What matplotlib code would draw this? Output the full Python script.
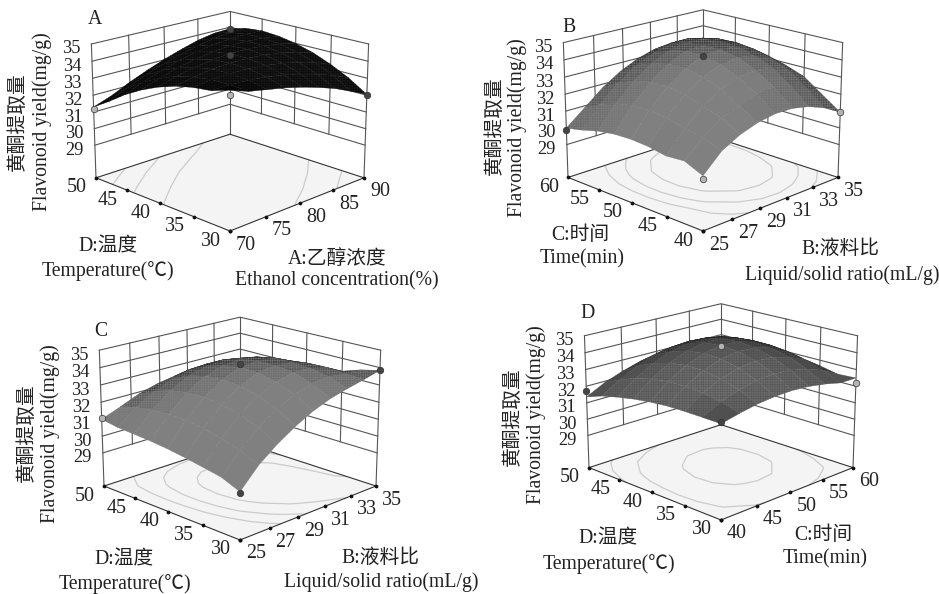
import numpy as np
import matplotlib
matplotlib.use('Agg')
import matplotlib.pyplot as plt
from mpl_toolkits.mplot3d import proj3d

plt.rcParams['font.family'] = ['Liberation Serif', 'Noto Sans CJK SC']  # latin + chinese
plt.rcParams['axes.unicode_minus'] = False
plt.rcParams['hatch.linewidth'] = 0.3

z_ticks = [29, 30, 31, 32, 33, 34, 35]
z_floor = 27

# x/y ticks of each panel
a_x = [70, 75, 80, 85, 90]
a_y = [30, 35, 40, 45, 50]
b_x = [25, 27, 29, 31, 33, 35]
b_y = [40, 45, 50, 55, 60]
c_x = [25, 27, 29, 31, 33, 35]
c_y = [30, 35, 40, 45, 50]
d_x = [40, 45, 50, 55, 60]
d_y = [30, 35, 40, 45, 50]

# yield, rows go along y, columns along x (9 x 9 grid)
a_z = [
    [34.67, 34.31, 34.11, 33.91, 33.65, 33.34, 32.98, 32.52, 32.05],
    [34.35, 34.37, 34.33, 34.22, 34.05, 33.82, 33.52, 33.17, 32.74],
    [34.23, 34.36, 34.41, 34.40, 34.31, 34.16, 33.93, 33.64, 33.27],
    [34.00, 34.22, 34.38, 34.44, 34.44, 34.37, 34.22, 33.99, 33.70],
    [33.65, 33.97, 34.20, 34.36, 34.44, 34.44, 34.38, 34.23, 34.00],
    [33.19, 33.57, 33.89, 34.12, 34.29, 34.38, 34.39, 34.32, 34.19],
    [32.62, 33.07, 33.45, 33.77, 34.01, 34.18, 34.28, 34.31, 34.27],
    [31.93, 32.44, 32.89, 33.27, 33.59, 33.84, 34.04, 34.17, 34.18],
    [31.30, 31.69, 32.20, 32.64, 33.04, 33.38, 33.68, 33.87, 33.91],
]
b_z = [
    [30.05, 31.05, 31.60, 31.95, 32.12, 32.10, 31.89, 31.50, 30.93],
    [30.50, 31.44, 32.20, 32.56, 32.91, 33.02, 32.80, 32.37, 31.69],
    [30.42, 31.61, 32.53, 33.18, 33.57, 33.69, 33.55, 33.14, 32.46],
    [30.60, 31.88, 32.88, 33.59, 34.01, 34.15, 34.00, 33.57, 32.85],
    [30.67, 32.00, 33.04, 33.79, 34.24, 34.33, 34.27, 33.85, 33.14],
    [30.63, 31.96, 33.01, 33.77, 34.25, 34.33, 34.33, 33.97, 33.31],
    [30.47, 31.76, 32.79, 33.54, 34.04, 34.27, 34.23, 33.93, 33.36],
    [30.20, 31.40, 32.37, 33.11, 33.61, 33.88, 33.93, 33.73, 33.31],
    [29.99, 30.88, 31.77, 32.46, 32.97, 33.29, 33.42, 33.37, 32.97],
]
c_z = [
    [29.65, 30.75, 31.54, 32.19, 32.72, 33.11, 33.37, 33.60, 33.85],
    [30.08, 31.19, 32.10, 32.81, 33.33, 33.65, 33.76, 33.67, 33.60],
    [30.27, 31.51, 32.51, 33.26, 33.75, 34.00, 34.00, 33.75, 33.25],
    [30.45, 31.75, 32.77, 33.52, 33.99, 34.17, 34.09, 33.72, 33.09],
    [30.60, 31.89, 32.89, 33.60, 34.04, 34.18, 34.04, 33.60, 32.89],
    [30.71, 31.92, 32.86, 33.52, 33.90, 34.00, 33.83, 33.38, 32.66],
    [30.78, 31.85, 32.68, 33.26, 33.58, 33.66, 33.49, 33.07, 32.40],
    [30.84, 31.70, 32.35, 32.81, 33.08, 33.14, 32.99, 32.65, 32.12],
    [31.00, 31.43, 31.88, 32.19, 32.38, 32.43, 32.35, 32.13, 31.79],
]
d_z = [
    [32.38, 32.62, 32.82, 32.93, 32.96, 32.89, 32.73, 32.50, 32.50],
    [32.40, 32.92, 33.30, 33.53, 33.61, 33.55, 33.32, 32.96, 32.44],
    [32.41, 33.12, 33.63, 33.95, 34.07, 34.01, 33.75, 33.30, 32.66],
    [32.39, 33.20, 33.80, 34.19, 34.35, 34.30, 34.03, 33.55, 32.84],
    [32.30, 33.17, 33.82, 34.24, 34.43, 34.40, 34.15, 33.66, 32.96],
    [32.16, 33.03, 33.68, 34.11, 34.33, 34.33, 34.10, 33.67, 33.02],
    [31.96, 32.77, 33.38, 33.80, 34.03, 34.07, 33.92, 33.57, 33.03],
    [31.72, 32.40, 32.93, 33.32, 33.55, 33.63, 33.57, 33.35, 32.99],
    [31.36, 31.92, 32.32, 32.64, 32.87, 33.01, 33.06, 33.03, 32.87],
]

# design points sitting on the surfaces: x, y, z, dark (1) or light (0)
a_pts = [(90, 50, 33.9, 1), (80, 40, 34.35, 1), (70, 30, 34.4, 0), (70, 50, 31.2, 0), (90, 30, 32.0, 1)]
b_pts = [(25, 40, 29.9, 0), (25, 60, 29.9, 1), (35, 40, 30.95, 0), (30, 50, 34.25, 1)]
c_pts = [(25, 30, 29.6, 1), (25, 50, 31.1, 0), (35, 30, 33.85, 1), (30, 40, 34.2, 1)]
d_pts = [(40, 30, 32.5, 1), (40, 50, 31.7, 1), (60, 30, 32.2, 0), (50, 40, 34.4, 0)]

z_title_cn = '黄酮提取量'
z_title_en = 'Flavonoid yield(mg/g)'

W, H = 939, 594
ELEV = 18
Z_BOX = 0.73
fig = plt.figure(figsize=(W / 100, H / 100), dpi=100, facecolor='white')


def pixel_of(ax, x, y, z):  # where a data point lands on the figure, in pixels
    px, py, _ = proj3d.proj_transform(x, y, z, ax.get_proj())
    return ax.transData.transform((px, py))


def put_text(x, y, s, rot=0, size=14.2):  # text placed by reference pixel
    fig.text(x / W, 1 - y / H, s, fontsize=size, color='#222222', rotation=rot, ha='center', va='center')


def panel(xt, yt, zt, pts, levels, gain, front, half_w):
    ax = fig.add_axes([0.1, 0.1, 0.4, 0.4 * W / H], projection='3d', computed_zorder=False)
    ax.set_proj_type('persp', focal_length=0.8)
    ax.set_box_aspect((1, 1, Z_BOX))
    ax.view_init(elev=ELEV, azim=-135)
    ax.set_xlim(xt[0], xt[-1])
    ax.set_ylim(yt[0], yt[-1])
    ax.set_zlim(z_floor, 35)
    ax.set_axis_off()
    ax.patch.set_alpha(0)

    xs = np.linspace(xt[0], xt[-1], len(zt[0]))
    ys = np.linspace(yt[0], yt[-1], len(zt))
    X, Y = np.meshgrid(xs, ys)
    Z = np.array(zt)
    x0, x1, y0, y1 = xt[0], xt[-1], yt[0], yt[-1]

    # floor with the contour lines
    ax.plot_surface(np.array([[x0, x1], [x0, x1]]), np.array([[y0, y0], [y1, y1]]), np.full((2, 2), z_floor),
                    color='#f4f4f4', shade=False, linewidth=0, zorder=1)
    ax.contour(X, Y, Z, levels=levels, zdir='z', offset=z_floor, colors='#cccccc', linewidths=0.9, zorder=2)

    # back walls
    wall = dict(color='#555555', lw=0.8, zorder=3)
    for z in z_ticks:
        ax.plot([x0, x1, x1], [y1, y1, y0], [z, z, z], **wall)
    for x in xt[1:-1]:
        ax.plot([x, x], [y1, y1], [z_ticks[0], 35], **wall)
    for y in yt[1:-1]:
        ax.plot([x1, x1], [y, y], [z_ticks[0], 35], **wall)
    for x, y in [(x0, y1), (x1, y1), (x1, y0)]:
        ax.plot([x, x], [y, y], [z_floor, 35], **wall)

    # floor edges and their tick dots
    ax.plot([x0, x1, x1], [y0, y0, y1], [z_floor] * 3, color='#333333', lw=0.8, zorder=4)
    ax.plot([x0, x0, x1], [y0, y1, y1], [z_floor] * 3, color='#333333', lw=0.8, zorder=4)
    ax.scatter(xt, [y0] * len(xt), [z_floor] * len(xt), s=3, c='#111111', depthshade=False, zorder=4)
    ax.scatter([x0] * len(yt), yt, [z_floor] * len(yt), s=3, c='#111111', depthshade=False, zorder=4)

    # grey comes from how much each cell faces the viewer, like the packed mesh lines
    dzdy, dzdx = np.gradient(Z * Z_BOX / (35 - z_floor), 1 / (len(zt) - 1), 1 / (len(zt[0]) - 1))
    e = np.radians(ELEV)
    view = np.array([-np.cos(e) * 0.7071, -np.cos(e) * 0.7071, np.sin(e)])
    facing = (-dzdx * view[0] - dzdy * view[1] + view[2]) / np.sqrt(dzdx ** 2 + dzdy ** 2 + 1)
    grey = np.clip(gain * (0.02 + 0.62 * np.clip(facing, 0, 1)), 0.03, 0.5)
    surf = ax.plot_surface(X, Y, Z, facecolors=plt.cm.gray(grey), rstride=1, cstride=1, shade=False,
                           linewidth=0.2, antialiased=True, zorder=5)
    surf.set_hatch('+++++++')  # dense mesh texture

    for px, py, pz, dark in pts:
        ax.scatter([px], [py], [pz], s=22, c='#444444' if dark else '#b4b4b4', edgecolors='#333333',
                   linewidths=0.5, depthshade=False, zorder=6)

    # scale and shift the axes so that the floor lands where it should
    p_front = pixel_of(ax, x0, y0, z_floor)
    p_left = pixel_of(ax, x0, y1, z_floor)
    p_right = pixel_of(ax, x1, y0, z_floor)
    k = 2 * half_w / (p_right[0] - p_left[0])
    bbox = ax.get_position()
    size = bbox.width * W * k
    left = front[0] - (p_front[0] - bbox.x0 * W) * k
    bottom = (H - front[1]) - (p_front[1] - bbox.y0 * H) * k
    ax.set_position([left / W, bottom / H, size / W, size / H])

    # tick labels sit a fixed distance off the box edges
    for x in xt:
        p = pixel_of(ax, x, y0, z_floor)
        put_text(p[0] + 16, H - p[1] + 14, str(x), size=14.4)
    for y in yt:
        p = pixel_of(ax, x0, y, z_floor)
        put_text(p[0] - 19, H - p[1] + 10, str(y), size=14.4)
    for z in z_ticks:
        p = pixel_of(ax, x0, y1, z)
        put_text(p[0] - 20, H - p[1] + 5, str(z), size=13.2)
    return ax


panel(a_x, a_y, a_z, a_pts, [32, 32.87, 33.74], 0.4, (230, 231), 134)
panel(b_x, b_y, b_z, b_pts, [31.8, 32.63, 33.5], 1.1, (703, 231), 135)
panel(c_x, c_y, c_z, c_pts, [31.7, 32.55, 33.4], 1.1, (240, 540), 136)
panel(d_x, d_y, d_z, d_pts, [32.05, 32.87, 34.0], 1.1, (721, 520), 132)

put_text(95, 19, 'A')
put_text(18, 122, z_title_cn, 90)
put_text(42, 122, z_title_en, 90)
put_text(108, 247, 'D:温度')
put_text(108, 271, 'Temperature(℃)')
put_text(337, 259, 'A:乙醇浓度')
put_text(337, 281, 'Ethanol concentration(%)')

put_text(569, 27, 'B')
put_text(495, 126, z_title_cn, 90)
put_text(517, 128, z_title_en, 90)
put_text(580, 236, 'C:时间')
put_text(582, 259, 'Time(min)')
put_text(840, 249, 'B:液料比')
put_text(842, 275, 'Liquid/solid ratio(mL/g)')

put_text(101, 332, 'C')
put_text(27, 433, z_title_cn, 90)
put_text(50, 434, z_title_en, 90)
put_text(124, 560, 'D:温度')
put_text(125, 584, 'Temperature(℃)')
put_text(380, 558, 'B:液料比')
put_text(381, 582, 'Liquid/solid ratio(mL/g)')

put_text(588, 314, 'D')
put_text(513, 417, z_title_cn, 90)
put_text(536, 415, z_title_en, 90)
put_text(608, 539, 'D:温度')
put_text(609, 564, 'Temperature(℃)')
put_text(823, 536, 'C:时间')
put_text(825, 559, 'Time(min)')

fig.savefig('out.png', dpi=100)
